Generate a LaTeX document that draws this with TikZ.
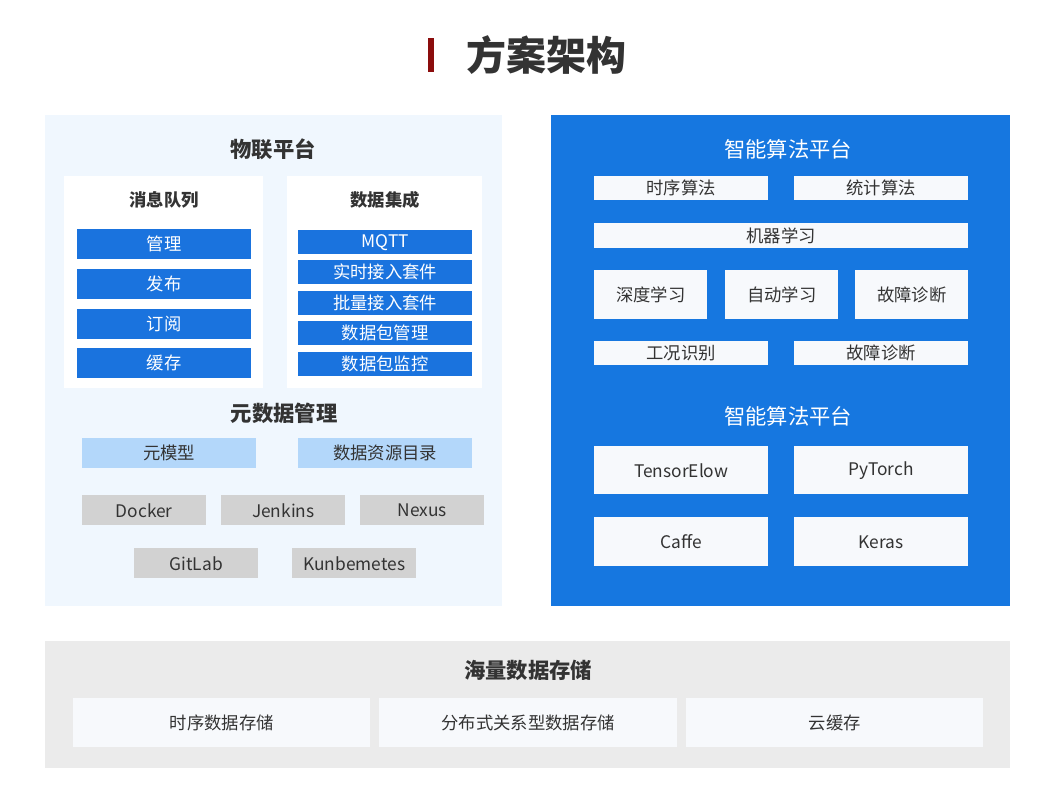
\documentclass[tikz,border=0pt]{standalone}
\usepackage{fontspec}
\setmainfont{Noto Sans CJK SC}
\usetikzlibrary{positioning}
\definecolor{panelblue}{HTML}{1677E0}
\definecolor{barblue}{HTML}{1A73DE}
\definecolor{paleblue}{HTML}{F0F7FE}
\definecolor{lightbar}{HTML}{B3D7FA}
\definecolor{graybox}{HTML}{D2D2D2}
\definecolor{grayband}{HTML}{EBEBEB}
\definecolor{cellwhite}{HTML}{F7F9FC}
\definecolor{txt}{HTML}{333333}
\definecolor{titlered}{HTML}{8B0D0D}
\tikzset{
  cell/.style={anchor=north west, inner sep=0pt, font=\fontsize{13}{15}\selectfont, text=txt},
  bluebar/.style={cell, fill=barblue, text=white},
  palebar/.style={cell, fill=lightbar},
  graycell/.style={cell, fill=graybox},
  whitecell/.style={cell, fill=cellwhite},
  heading/.style={font=\bfseries\fontsize{16}{18}\selectfont, text=txt},
  subhead/.style={font=\bfseries\fontsize{13}{15}\selectfont, text=txt},
}
\begin{document}
\begin{tikzpicture}[x=0.75pt, y=-0.75pt]
  \useasboundingbox[fill=white] (0,0) rectangle (1053,800);

  % title
  \fill[titlered] (428,38) rectangle (434,72);
  \node[font=\bfseries\fontsize{30}{33}\selectfont, text=txt] (title) at (546,55) {方案架构};

  % left panel
  \fill[paleblue] (45,115) rectangle (502,606);
  \node[heading] (iot) at (273,149) {物联平台};
  \fill[white] (64,176) rectangle (263,388);
  \fill[white] (287,176) rectangle (482,388);
  \node[subhead] (mq) at (164,200) {消息队列};
  \node[subhead] (di) at (385,200) {数据集成};
  \node[bluebar, minimum width=174*0.75pt, minimum height=30*0.75pt] (mq1) at (77,229) {管理};
  \node[bluebar, minimum width=174*0.75pt, minimum height=30*0.75pt] (mq2) at (77,269) {发布};
  \node[bluebar, minimum width=174*0.75pt, minimum height=30*0.75pt] (mq3) at (77,309) {订阅};
  \node[bluebar, minimum width=174*0.75pt, minimum height=30*0.75pt] (mq4) at (77,348) {缓存};
  \node[bluebar, minimum width=174*0.75pt, minimum height=24*0.75pt] (di1) at (298,230) {MQTT};
  \node[bluebar, minimum width=174*0.75pt, minimum height=24*0.75pt] (di2) at (298,260) {实时接入套件};
  \node[bluebar, minimum width=174*0.75pt, minimum height=24*0.75pt] (di3) at (298,291) {批量接入套件};
  \node[bluebar, minimum width=174*0.75pt, minimum height=24*0.75pt] (di4) at (298,321) {数据包管理};
  \node[bluebar, minimum width=174*0.75pt, minimum height=24*0.75pt] (di5) at (298,352) {数据包监控};
  \node[heading] (meta) at (284,413) {元数据管理};
  \node[palebar, minimum width=174*0.75pt, minimum height=30*0.75pt] (meta1) at (82,438) {元模型};
  \node[palebar, minimum width=174*0.75pt, minimum height=30*0.75pt] (meta2) at (298,438) {数据资源目录};
  \node[graycell, minimum width=124*0.75pt, minimum height=30*0.75pt] (docker) at (82,495) {Docker};
  \node[graycell, minimum width=124*0.75pt, minimum height=30*0.75pt] (jenkins) at (221,495) {Jenkins};
  \node[graycell, minimum width=124*0.75pt, minimum height=30*0.75pt] (nexus) at (360,495) {Nexus};
  \node[graycell, minimum width=124*0.75pt, minimum height=30*0.75pt] (gitlab) at (134,548) {GitLab};
  \node[graycell, minimum width=124*0.75pt, minimum height=30*0.75pt] (kube) at (292,548) {Kunbemetes};

  % right panel
  \fill[panelblue] (551,115) rectangle (1010,606);
  \node[heading, text=white, font=\fontsize{16}{18}\selectfont] (ai) at (788,149) {智能算法平台};
  \node[whitecell, minimum width=174*0.75pt, minimum height=24*0.75pt] (alg1) at (594,176) {时序算法};
  \node[whitecell, minimum width=174*0.75pt, minimum height=24*0.75pt] (alg2) at (794,176) {统计算法};
  \node[whitecell, minimum width=374*0.75pt, minimum height=25*0.75pt] (ml) at (594,223) {机器学习};
  \node[whitecell, minimum width=113*0.75pt, minimum height=49*0.75pt] (dl) at (594,270) {深度学习};
  \node[whitecell, minimum width=113*0.75pt, minimum height=49*0.75pt] (auto) at (725,270) {自动学习};
  \node[whitecell, minimum width=113*0.75pt, minimum height=49*0.75pt] (fault1) at (855,270) {故障诊断};
  \node[whitecell, minimum width=174*0.75pt, minimum height=24*0.75pt] (cond) at (594,341) {工况识别};
  \node[whitecell, minimum width=174*0.75pt, minimum height=24*0.75pt] (fault2) at (794,341) {故障诊断};
  \node[heading, text=white, font=\fontsize{16}{18}\selectfont] (fw) at (788,416) {智能算法平台};
  \node[whitecell, minimum width=174*0.75pt, minimum height=48*0.75pt] (tf) at (594,446) {TensorElow};
  \node[whitecell, minimum width=174*0.75pt, minimum height=48*0.75pt] (pt) at (794,446) {PyTorch};
  \node[whitecell, minimum width=174*0.75pt, minimum height=49*0.75pt] (caffe) at (594,517) {Caffe};
  \node[whitecell, minimum width=174*0.75pt, minimum height=49*0.75pt] (keras) at (794,517) {Keras};

  % bottom band
  \fill[grayband] (45,641) rectangle (1010,768);
  \node[heading] (store) at (528,670) {海量数据存储};
  \node[whitecell, minimum width=297*0.75pt, minimum height=49*0.75pt] (st1) at (73,698) {时序数据存储};
  \node[whitecell, minimum width=298*0.75pt, minimum height=49*0.75pt] (st2) at (379,698) {分布式关系型数据存储};
  \node[whitecell, minimum width=297*0.75pt, minimum height=49*0.75pt] (st3) at (686,698) {云缓存};
\end{tikzpicture}
\end{document}
